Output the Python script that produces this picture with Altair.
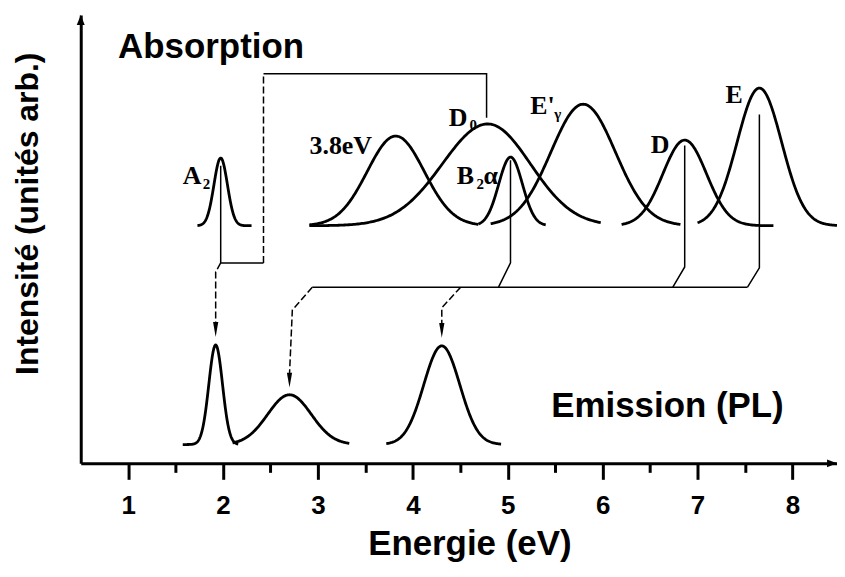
import altair as alt
import pandas as pd
import numpy as np

# ---------------- data ----------------
# energy axis (eV), intensity in arbitrary units (0..100)
X_DOMAIN = [0.5, 8.47]
Y_DOMAIN = [0, 100]

# absorption bands
abs_names = ["A2", "3.8eV", "D0", "B2a", "E'g", "D", "E"]
abs_center = [1.975, 3.82, 4.79, 5.03, 5.795, 6.865, 7.652]
abs_height = [15.1, 20.0, 22.7, 15.3, 27.1, 19.1, 30.7]
abs_sigma_left = [0.071, 0.30, 0.48, 0.125, 0.34, 0.23, 0.235]
abs_sigma_right = [0.071, 0.30, 0.45, 0.125, 0.34, 0.23, 0.235]
abs_start = [1.73, 2.91, 2.91, 4.69, 4.82, 6.20, 7.00]
abs_end = [2.30, 4.69, 5.98, 5.40, 6.82, 7.80, 8.47]
abs_baseline = 53.0

# emission (PL) bands
em_names = ["PL1", "PL2", "PL3"]
em_center = [1.922, 2.70, 4.305]
em_height = [22.2, 11.1, 22.0]
em_sigma = [0.072, 0.23, 0.19]
em_start = [1.575, 2.10, 3.72]
em_end = [2.16, 3.33, 4.93]
em_baseline = 4.2

# connector paths (solid)
solid_paths = {
    "a2_box": ([1.975, 1.975, 2.426], [66.4, 44.7, 44.7]),
    "d0_top": ([2.426, 4.777, 4.777], [86.9, 86.9, 77.1]),
    "b2a": ([5.029, 5.029, 4.903], [67.6, 44.7, 39.3]),
    "d": ([6.865, 6.865, 6.74], [70.9, 43.8, 39.3]),
    "e": ([7.652, 7.652, 7.527], [77.8, 43.6, 39.3]),
    "hline": ([2.94, 7.527], [39.3, 39.3]),
}
# connector paths (dashed)
dashed_paths = {
    "a2_vert": ([2.426, 2.426], [44.7, 86.9]),
    "to_pl1": ([1.975, 1.922, 1.922], [44.7, 42.7, 31.0]),
    "to_pl2": ([2.94, 2.73, 2.70], [39.3, 34.2, 19.8]),
    "to_pl3": ([4.504, 4.305, 4.305], [39.3, 34.7, 31.0]),
}
arrow_x = [1.922, 2.70, 4.305]
arrow_y = [28.2, 16.9, 28.0]

# band labels
lab_text = ["A", "D", "B", "α", "E'", "D", "E"]
lab_x = [1.576, 4.378, 4.462, 4.745, 5.238, 6.508, 7.296]
lab_y = [62.4, 75.3, 62.4, 62.4, 78.0, 69.3, 80.4]
lab38_text = ["3.8eV"]
lab38_x = [3.57]
lab38_y = [69.1]
sub_text = ["2", "0", "2", "γ"]
sub_x = [1.786, 4.598, 4.672, 5.49]
sub_y = [61.3, 74.4, 61.3, 76.7]

big_text = ["Absorption", "Emission (PL)"]
big_x = [0.894, 5.459]
big_y = [90.4, 10.4]

tick_values = [1, 1.5, 2, 2.5, 3, 3.5, 4, 4.5, 5, 5.5, 6, 6.5, 7, 7.5, 8]

# ---------------- build tables ----------------
rows = []
for n, c, h, sl, sr, a, b in zip(abs_names, abs_center, abs_height, abs_sigma_left,
                                 abs_sigma_right, abs_start, abs_end):
    xs = np.linspace(a, b, 200)
    s = np.where(xs < c, sl, sr)
    ys = abs_baseline + h * np.exp(-(xs - c) ** 2 / (2 * s ** 2))
    rows += [{"x": float(x), "y": float(y), "band": n} for x, y in zip(xs, ys)]
for n, c, h, s, a, b in zip(em_names, em_center, em_height, em_sigma, em_start, em_end):
    xs = np.linspace(a, b, 200)
    ys = em_baseline + h * np.exp(-(xs - c) ** 2 / (2 * s ** 2))
    rows += [{"x": float(x), "y": float(y), "band": n} for x, y in zip(xs, ys)]
curves = pd.DataFrame(rows)


def paths_df(paths):
    r = []
    for k, (xs, ys) in paths.items():
        for i, (x, y) in enumerate(zip(xs, ys)):
            r.append({"x": x, "y": y, "path": k, "seq": i})
    return pd.DataFrame(r)


solid_df = paths_df(solid_paths)
dashed_df = paths_df(dashed_paths)
arrows_df = pd.DataFrame({"x": arrow_x, "y": arrow_y})
labels_df = pd.DataFrame({"x": lab_x, "y": lab_y, "t": lab_text})
lab38_df = pd.DataFrame({"x": lab38_x, "y": lab38_y, "t": lab38_text})
subs_df = pd.DataFrame({"x": sub_x, "y": sub_y, "t": sub_text})
big_df = pd.DataFrame({"x": big_x, "y": big_y, "t": big_text})
yarrow_df = pd.DataFrame({"x": [X_DOMAIN[0]], "y": [Y_DOMAIN[1]]})
xarrow_df = pd.DataFrame({"x": [X_DOMAIN[1]], "y": [Y_DOMAIN[0]]})

# ---------------- encodings ----------------
xscale = alt.Scale(domain=X_DOMAIN, nice=False, zero=False)
yscale = alt.Scale(domain=Y_DOMAIN, nice=False, zero=False)

x_axis = alt.Axis(
    values=tick_values,
    title="Energie (eV)",
    titleFont="Liberation Sans", titleFontSize=35, titleFontWeight="bold",
    titleColor="black", titleX=390, titleY=91, titleBaseline="alphabetic",
    titleAlign="center",
    labelExpr="datum.value % 1 === 0 ? format(datum.value, 'd') : ''",
    labelFont="Liberation Sans", labelFontSize=26, labelFontWeight="bold",
    labelColor="black", labelPadding=13, labelFlush=False,
    domainColor="black", domainWidth=3,
    tickColor="black", tickWidth=3,
    tickSize={"condition": {"test": "datum.value % 1 === 0", "value": 16}, "value": 9},
    grid=False,
)
y_axis = alt.Axis(
    title="Intensité (unités arb.)",
    titleFont="Liberation Sans", titleFontSize=32, titleFontWeight="bold",
    titleColor="black", titleX=-43, titleY=199, titleAngle=270,
    titleBaseline="alphabetic", titleAlign="center",
    labels=False, ticks=False, grid=False,
    domainColor="black", domainWidth=3,
)
X = alt.X("x:Q", scale=xscale, axis=x_axis)
Y = alt.Y("y:Q", scale=yscale, axis=y_axis)

curve_layer = alt.Chart(curves).mark_line(color="black", strokeWidth=2.8).encode(
    x=X, y=Y, detail="band:N", order="x:Q"
)
solid_layer = alt.Chart(solid_df).mark_line(color="black", strokeWidth=1.5).encode(
    x=X, y=Y, detail="path:N", order="seq:Q"
)
dashed_layer = alt.Chart(dashed_df).mark_line(
    color="black", strokeWidth=1.5, strokeDash=[7, 3]
).encode(x=X, y=Y, detail="path:N", order="seq:Q")
arrow_layer = alt.Chart(arrows_df).mark_point(
    shape="M -0.35 -2 L 0.35 -2 L 0 0 Z", filled=True, color="black", opacity=1, size=225
).encode(x=X, y=Y)
yarrow_layer = alt.Chart(yarrow_df).mark_point(
    shape="M 0 0 L -0.8 2 L 0.8 2 Z", filled=True, color="black", opacity=1, size=100
).encode(x=X, y=Y)
xarrow_layer = alt.Chart(xarrow_df).mark_point(
    shape="M 0 0 L -2 -0.8 L -2 0.8 Z", filled=True, color="black", opacity=1, size=100
).encode(x=X, y=Y)
label_layer = alt.Chart(labels_df).mark_text(
    font="Liberation Serif", fontSize=26, fontWeight="bold", color="black",
    align="left", baseline="alphabetic"
).encode(x=X, y=Y, text="t:N")
lab38_layer = alt.Chart(lab38_df).mark_text(
    font="Liberation Serif", fontSize=26, fontWeight="bold", color="black",
    align="right", baseline="alphabetic"
).encode(x=X, y=Y, text="t:N")
sub_layer = alt.Chart(subs_df).mark_text(
    font="Liberation Serif", fontSize=15, fontWeight="bold", color="black",
    align="left", baseline="alphabetic"
).encode(x=X, y=Y, text="t:N")
big_layer = alt.Chart(big_df).mark_text(
    font="Liberation Sans", fontSize=35, fontWeight="bold", color="black",
    align="left", baseline="alphabetic"
).encode(x=X, y=Y, text="t:N")

chart = alt.layer(
    curve_layer, solid_layer, dashed_layer, arrow_layer, yarrow_layer, xarrow_layer,
    label_layer, lab38_layer, sub_layer, big_layer
).properties(
    width=759, height=450,
    autosize=alt.AutoSizeParams(type="none"),
    padding={"left": 73, "top": 6, "right": 0, "bottom": 105},
    background="white",
).configure_view(stroke=None)

chart.save("out.html", embed_options={"renderer": "svg", "actions": False})
